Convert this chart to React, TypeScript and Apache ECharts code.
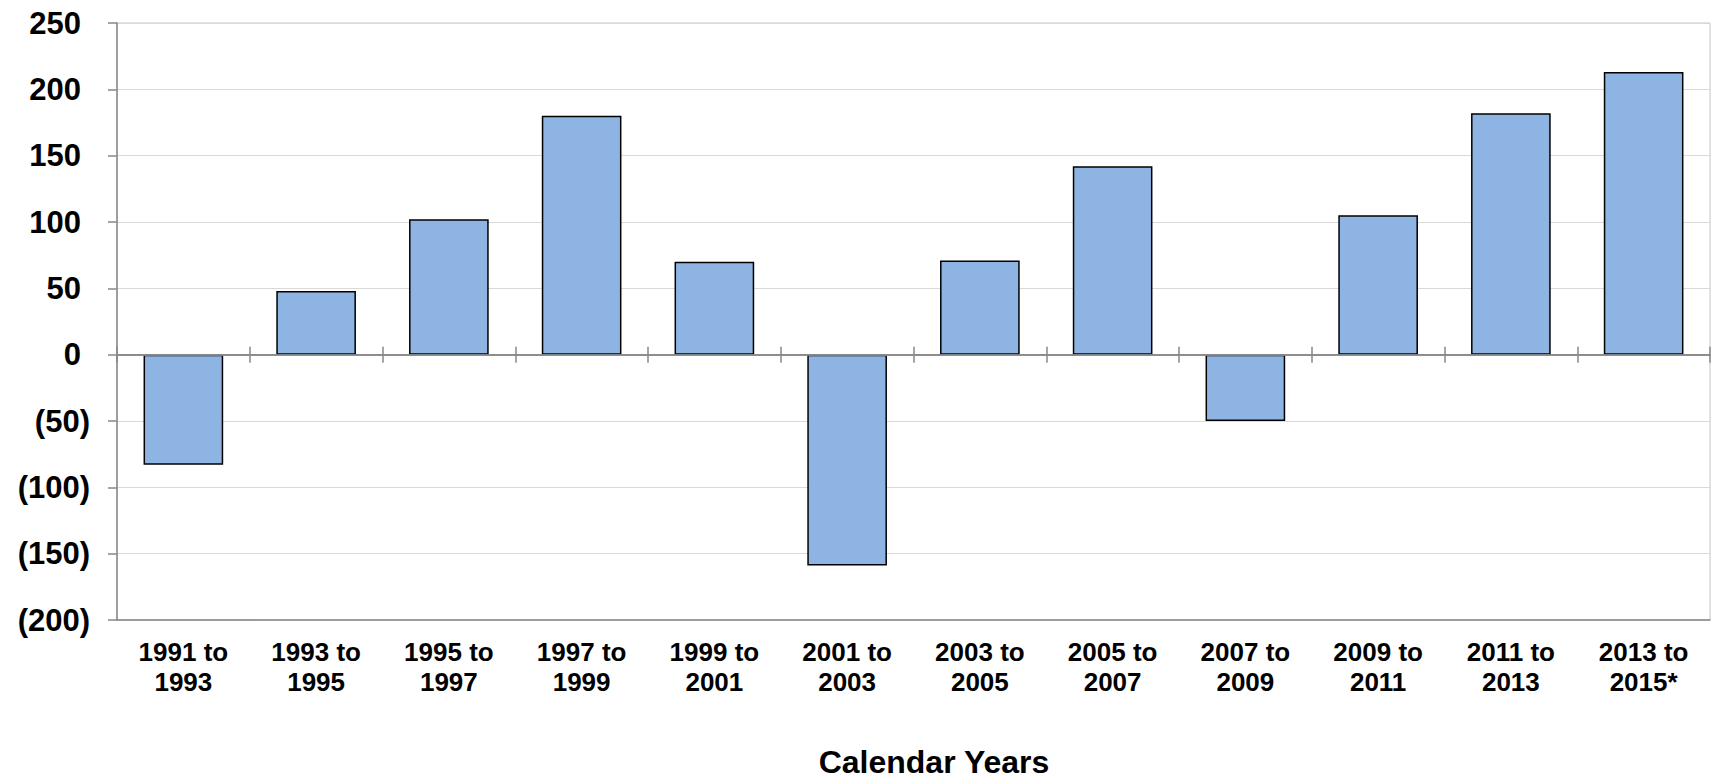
import React, { useEffect, useRef } from "react";
import * as echarts from "echarts";

const categories = [
  "1991 to\n1993",
  "1993 to\n1995",
  "1995 to\n1997",
  "1997 to\n1999",
  "1999 to\n2001",
  "2001 to\n2003",
  "2003 to\n2005",
  "2005 to\n2007",
  "2007 to\n2009",
  "2009 to\n2011",
  "2011 to\n2013",
  "2013 to\n2015*",
];
const values = [-83, 48, 102, 180, 70, -159, 71, 142, -50, 105, 182, 213];
const yMin = -200;
const yMax = 250;
const yStep = 50;
const xTitle = "Calendar Years";

const FONT = '"Liberation Sans", Arial, sans-serif';
const AXIS = "#878787";

export default function App() {
  const ref = useRef<HTMLDivElement>(null);
  useEffect(() => {
    if (!ref.current) return;
    const chart = echarts.init(ref.current, undefined, { renderer: "svg" });
    const hiddenAxis = (position: string) => ({
      type: "category",
      data: categories,
      position,
      z: 5,
      axisLine: { show: true, onZero: true, onZeroAxisIndex: 0, lineStyle: { color: AXIS, width: 1.5 } },
      axisTick: { show: true, inside: false, length: 8, lineStyle: { color: AXIS, width: 1.5 } },
      axisLabel: { show: false },
      splitLine: { show: false },
    });
    chart.setOption({
      animation: false,
      backgroundColor: "#ffffff",
      grid: {
        left: 117,
        right: 1,
        top: 23,
        bottom: 160,
        show: true,
        borderColor: "#c4c4c4",
        borderWidth: 1,
        backgroundColor: "transparent",
      },
      xAxis: [
        {
          type: "category",
          data: categories,
          position: "bottom",
          axisLine: { show: true, onZero: false, lineStyle: { color: AXIS, width: 1.5 } },
          axisTick: { show: false },
          axisLabel: {
            margin: 17,
            fontFamily: FONT,
            fontSize: 26,
            fontWeight: "bold",
            color: "#000",
            lineHeight: 30,
            interval: 0,
          },
          splitLine: { show: false },
        },
        hiddenAxis("bottom"),
        hiddenAxis("top"),
      ],
      yAxis: {
        type: "value",
        min: yMin,
        max: yMax,
        interval: yStep,
        axisLine: { show: true, lineStyle: { color: AXIS, width: 1.5 } },
        axisTick: { show: true, inside: false, length: 9, lineStyle: { color: AXIS, width: 1.5 } },
        splitLine: { show: true, lineStyle: { color: "#d9d9d9", width: 1 } },
        axisLabel: {
          margin: 27,
          fontFamily: FONT,
          fontSize: 31,
          fontWeight: "bold",
          color: "#000",
          formatter: (v: number) => (v < 0 ? `{n|(${-v})}` : `{p|${v}}`),
          rich: {
            p: { fontFamily: FONT, fontSize: 31, fontWeight: "bold", color: "#000", padding: [0, 9, 0, 0] },
            n: { fontFamily: FONT, fontSize: 31, fontWeight: "bold", color: "#000" },
          },
        },
      },
      series: [
        {
          type: "bar",
          xAxisIndex: 0,
          yAxisIndex: 0,
          data: values,
          barWidth: "60%",
          itemStyle: { color: "#8EB4E3", borderColor: "#000", borderWidth: 1.5 },
        },
      ],
      graphic: [
        {
          type: "text",
          x: 934,
          y: 762,
          style: {
            text: xTitle,
            font: `bold 32px ${FONT}`,
            fill: "#000",
            textAlign: "center",
            textVerticalAlign: "middle",
          },
        },
      ],
    });
    return () => chart.dispose();
  }, []);
  return (
    <div
      ref={ref}
      style={{ position: "fixed", left: 0, top: 0, width: 1711, height: 780, background: "#fff" }}
    />
  );
}
